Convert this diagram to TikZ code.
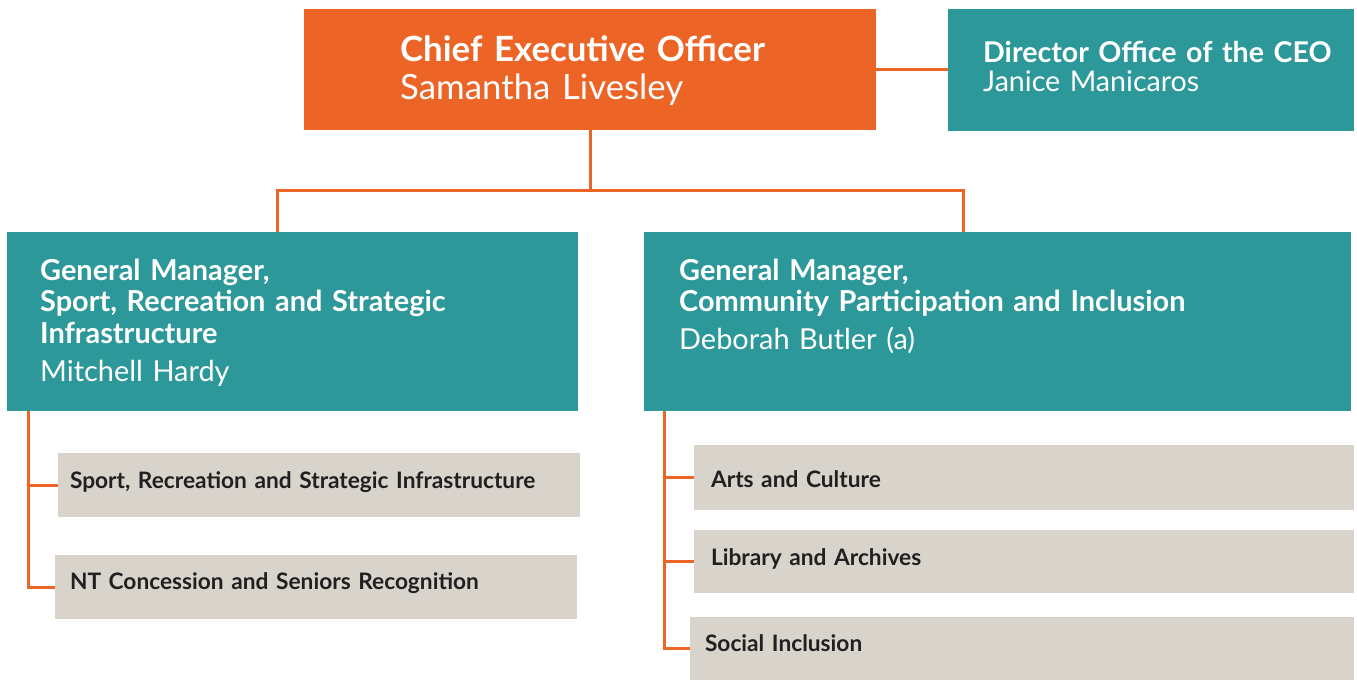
\documentclass[tikz,border=0pt]{standalone}
\usepackage{fontspec}
\setmainfont{Lato}
\usetikzlibrary{positioning}

\definecolor{ceoorange}{HTML}{EC6426}
\definecolor{gmteal}{HTML}{2C989A}
\definecolor{unitgrey}{HTML}{D8D3CB}
\definecolor{unitink}{HTML}{231F20}

\begin{document}
\begin{tikzpicture}[x=1pt,y=-1pt]
\tikzset{orgbox/.style={anchor=north west, inner sep=0pt, outer sep=0pt},
  headtext/.style={inner sep=0pt, align=left, text=white},
  unitbox/.style={orgbox, fill=unitgrey, text=unitink, align=left, inner xsep=15pt,
    font=\fontsize{22.7}{26}\selectfont\bfseries},
  orgline/.style={draw=ceoorange, line width=3pt}}
\useasboundingbox (0,0) rectangle (1357,680);
% top row
\node[orgbox, fill=ceoorange, minimum width=572pt, minimum height=121pt] (ceo) at (304,9) {};
\node[orgbox, fill=gmteal, minimum width=406pt, minimum height=122pt] (dir) at (948,9) {};
% general managers
\node[orgbox, fill=gmteal, minimum width=571pt, minimum height=179pt] (gmA) at (7,232) {};
\node[orgbox, fill=gmteal, minimum width=707pt, minimum height=179pt] (gmB) at (644,232) {};
% titles and names
\node[headtext, below right=52pt and 96pt of ceo.north west, anchor=base west,
  text width=470pt, font=\fontsize{34.8}{38}\selectfont] (ceo-text)
  {\textbf{Chief Executive Officer}\\Samantha Livesley};
\node[headtext, below right=53pt and 35pt of dir.north west, anchor=base west,
  text width=370pt, font=\fontsize{28.6}{29.5}\selectfont] (dir-text)
  {\textbf{Director Office of the CEO}\\Janice Manicaros};
\node[headtext, below right=48pt and 33pt of gmA.north west, anchor=base west,
  text width=535pt, font=\fontsize{28.9}{31.5}\selectfont] (gmA-text)
  {\textbf{General Manager,}\\\textbf{Sport, Recreation and Strategic}\\\textbf{Infrastructure}\\[6.5pt]
   Mitchell Hardy};
\node[headtext, below right=48pt and 35pt of gmB.north west, anchor=base west,
  text width=665pt, font=\fontsize{28.9}{31.5}\selectfont] (gmB-text)
  {\textbf{General Manager,}\\\textbf{Community Participation and Inclusion}\\[6.5pt]
   Deborah Butler (a)};
% units (text depth lifts the label a little inside its box)
\node[unitbox, inner xsep=12pt, text width=498pt, minimum height=64pt, text depth=9pt] (uA1) at (58,453) {Sport, Recreation and Strategic Infrastructure};
\node[unitbox, text width=492pt, minimum height=64pt, text depth=11pt] (uA2) at (55,555) {NT Concession and Seniors Recognition};
\node[unitbox, inner xsep=17pt, text width=626pt, minimum height=65pt, text height=21pt] (uB1) at (694,445) {Arts and Culture};
\node[unitbox, inner xsep=17pt, text width=626pt, minimum height=63pt, text depth=9pt] (uB2) at (694,530) {Library and Archives};
\node[unitbox, text width=634pt, minimum height=63pt, text depth=10pt] (uB3) at (690,617) {Social Inclusion};
% connectors
\coordinate (dropA) at (277,190);
\coordinate (dropB) at (963,190);
\coordinate (spineA) at (28,0);
\coordinate (spineB) at (664,0);
\draw[orgline] (ceo.east) -- (ceo.east -| dir.west);
\draw[orgline] (ceo.south) -- (ceo.south |- dropA);
\draw[orgline] (dropA |- gmA.north) -- (dropA) -- (dropB) -- (dropB |- gmB.north);
\draw[orgline] (spineA |- gmA.south) |- (uA2.west);
\draw[orgline] (spineA |- uA1.west) -- (uA1.west);
\draw[orgline] (spineB |- gmB.south) |- (uB3.west);
\draw[orgline] (spineB |- uB1.west) -- (uB1.west);
\draw[orgline] (spineB |- uB2.west) -- (uB2.west);
\end{tikzpicture}
\end{document}
